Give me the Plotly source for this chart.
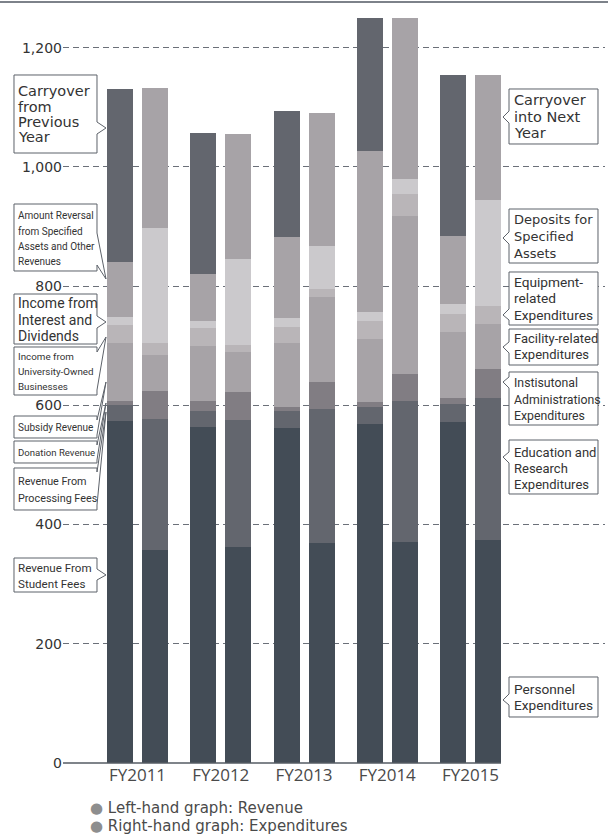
"""Revenue vs expenditures stacked bars, FY2011-FY2015."""

import plotly.graph_objects as go

W, H = 608, 837
MARGIN = dict(l=63, r=3, t=10, b=74)
PLOT_W = W - MARGIN['l'] - MARGIN['r']
PLOT_H = H - MARGIN['t'] - MARGIN['b']
Y_MAX = 1263.25

years = ['FY2011', 'FY2012', 'FY2013', 'FY2014', 'FY2015']
y_ticks = [0, 200, 400, 600, 800, 1000, 1200]

# revenue (left-hand bars), bottom to top
student_fees = [574, 564, 562, 569, 572]
processing_fees = [27, 27, 29, 29, 30]
donation = [7, 17, 7, 7, 10]
subsidy = [96, 92, 106, 106, 111]
university_business = [30, 30, 27, 30, 30]
interest_dividends = [15, 12, 15, 15, 17]
reversal_other = [92, 79, 136, 270, 114]
carryover_prev = [290, 236, 211, 223, 270]

# expenditures (right-hand bars), bottom to top
personnel = [357, 362, 369, 371, 374]
education_research = [220, 213, 225, 237, 238]
administration = [47, 47, 45, 45, 49]
facility = [60, 67, 143, 265, 76]
equipment = [20, 12, 13, 37, 29]
deposits = [193, 144, 72, 24, 178]
carryover_next = [236, 211, 223, 270, 211]

NAVY = '#434c56'
DARK = '#63666e'
MID = '#817d83'
GREY = '#a7a3a7'
LIGHT = '#b9b5b8'
PALE = '#cbc9cc'

BORDER = '#5d626a'
TEXT = '#333333'
WIDE = 'DejaVu Sans'
NARROW = 'Roboto'

BAR_WIDTH = 0.3123
BAR_SHIFT = 0.2102


def px(x):
    return (x - MARGIN['l']) / PLOT_W


def py(y):
    return (H - MARGIN['b'] - y) / PLOT_H


revenue = [
    ('Revenue From Student Fees', student_fees, NAVY),
    ('Revenue From Processing Fees', processing_fees, DARK),
    ('Donation Revenue', donation, MID),
    ('Subsidy Revenue', subsidy, GREY),
    ('Income from University-Owned Businesses', university_business, LIGHT),
    ('Income from Interest and Dividends', interest_dividends, PALE),
    ('Amount Reversal from Specified Assets and Other Revenues', reversal_other, GREY),
    ('Carryover from Previous Year', carryover_prev, DARK),
]
expenditures = [
    ('Personnel Expenditures', personnel, NAVY),
    ('Education and Research Expenditures', education_research, DARK),
    ('Instisutonal Administrations Expenditures', administration, MID),
    ('Facility-related Expenditures', facility, GREY),
    ('Equipment-related Expenditures', equipment, LIGHT),
    ('Deposits for Specified Assets', deposits, PALE),
    ('Carryover into Next Year', carryover_next, GREY),
]

# callout boxes: pixel box, tail (edge y1, edge y2, tip x, tip y), text lines
LEFT_X = (14, 97)
RIGHT_X = (509, 598)
left_labels = [
    dict(lines=['Carryover', 'from', 'Previous', 'Year'], box=(75, 153),
         tail=(122, 134, 106, 128), font=WIDE, size=14.5, first=91, step=15.5),
    dict(lines=['Amount Reversal', 'from Specified', 'Assets and Other', 'Revenues'],
         box=(204, 271), tail=(233, 265, 106, 279), font=NARROW, size=10,
         first=216, step=15.2),
    dict(lines=['Income from', 'Interest and', 'Dividends'], box=(294, 344),
         tail=(316, 328, 106, 322), font=NARROW, size=14, first=303, step=16.5),
    dict(lines=['Income from', 'University-Owned', 'Businesses'], box=(347, 395),
         tail=(352, 390, 106, 337), font=NARROW, size=9.8, first=356, step=15.3),
    dict(lines=['Subsidy Revenue'], box=(416, 438), tail=(420, 435, 106, 382),
         font=NARROW, size=10, first=427.5, step=15),
    dict(lines=['Donation Revenue'], box=(441, 463), tail=(445, 460, 106, 403),
         font=NARROW, size=9.6, first=452.5, step=15),
    dict(lines=['Revenue From', 'Processing Fees'], box=(468, 510),
         tail=(472, 505, 106, 412), font=NARROW, size=10.8, first=481.5, step=16.5),
    dict(lines=['Revenue From', 'Student Fees'], box=(558, 592),
         tail=(569, 580, 106, 575), font=NARROW, size=11.6, first=568, step=15.5),
]
right_labels = [
    dict(lines=['Carryover', 'into Next', 'Year'], box=(89, 144),
         tail=(111, 123, 503, 117), font=WIDE, size=14.5, first=100, step=16.7),
    dict(lines=['Deposits for', 'Specified', 'Assets'], box=(209, 263),
         tail=(232, 244, 503, 238), font=WIDE, size=13, first=220, step=16.7),
    dict(lines=['Equipment-', 'related', 'Expenditures'], box=(272, 325),
         tail=(309, 320, 503, 315), font=NARROW, size=13.7, first=282, step=16.3),
    dict(lines=['Facility-related', 'Expenditures'], box=(329, 365),
         tail=(342, 353, 503, 347), font=NARROW, size=13, first=339, step=15.5),
    dict(lines=['Instisutonal', 'Administrations', 'Expenditures'], box=(372, 425),
         tail=(377, 388, 503, 382), font=NARROW, size=12.3, first=383, step=16.5),
    dict(lines=['Education and', 'Research', 'Expenditures'], box=(440, 494),
         tail=(452, 463, 503, 457), font=NARROW, size=13, first=453, step=15.5),
    dict(lines=['Personnel', 'Expenditures'], box=(677, 717),
         tail=(694, 705, 503, 700), font=NARROW, size=13.7, first=689, step=15.5),
]


def _path(points):
    return 'M ' + ' L '.join(f'{px(x):.5f},{py(y):.5f}' for x, y in points) + ' Z'


def callout_points(label, side):
    y0, y1 = label['box']
    ta, tb, tx, ty = label['tail']
    if side == 'left':
        x0, x1 = LEFT_X
        return [(x0, y0), (x1, y0), (x1, ta), (tx, ty), (x1, tb), (x1, y1), (x0, y1)]
    x0, x1 = RIGHT_X
    return [(x0, y0), (x1, y0), (x1, y1), (x0, y1), (x0, tb), (tx, ty), (x0, ta)]


fig = go.Figure()

for name, values, color in revenue:
    fig.add_trace(go.Bar(
        name=name, x=[i - BAR_SHIFT for i in range(len(years))], y=values,
        width=BAR_WIDTH, marker=dict(color=color, line=dict(width=0)),
        hovertemplate='<b>' + name + '</b><br>%{y:,}<extra></extra>',
    ))
for name, values, color in expenditures:
    fig.add_trace(go.Bar(
        name=name, x=[i + BAR_SHIFT for i in range(len(years))], y=values,
        width=BAR_WIDTH, marker=dict(color=color, line=dict(width=0)),
        hovertemplate='<b>' + name + '</b><br>%{y:,}<extra></extra>',
    ))

shapes = [
    # top rule
    dict(type='line', xref='paper', yref='paper', x0=px(0), x1=px(W), y0=py(2), y1=py(2),
         line=dict(color='#7d828a', width=2)),
    # baseline
    dict(type='line', xref='paper', yref='paper', x0=px(63), x1=px(501), y0=py(763), y1=py(763),
         line=dict(color='#555b63', width=1.5)),
]
annotations = []

all_labels = [(lab, 'left') for lab in left_labels] + [(lab, 'right') for lab in right_labels]
# white fills first, then outlines, so leader tails don't hide each other
for lab, side in all_labels:
    shapes.append(dict(type='path', xref='paper', yref='paper',
                       path=_path(callout_points(lab, side)),
                       fillcolor='white', line=dict(width=0)))
for lab, side in all_labels:
    shapes.append(dict(type='path', xref='paper', yref='paper',
                       path=_path(callout_points(lab, side)),
                       fillcolor='rgba(0,0,0,0)', line=dict(color=BORDER, width=1)))
    text_x = LEFT_X[0] + 3 if side == 'left' else RIGHT_X[0] + 4
    for k, line in enumerate(lab['lines']):
        annotations.append(dict(
            text=line, x=px(text_x), y=py(lab['first'] + k * lab['step']),
            xref='paper', yref='paper', xanchor='left', yanchor='middle',
            showarrow=False, borderpad=0,
            font=dict(family=lab['font'], size=lab['size'], color=TEXT),
        ))

bullet = '<span style="color:#8e8e8e">●</span> '
for text, y in [('Left-hand graph: Revenue', 808), ('Right-hand graph: Expenditures', 826)]:
    annotations.append(dict(
        text=bullet + text, x=px(88), y=py(y), xref='paper', yref='paper',
        xanchor='left', yanchor='middle', showarrow=False,
        font=dict(family=WIDE, size=15, color='#4a4a4a'),
    ))

fig.update_layout(
    width=W, height=H,
    margin=MARGIN,
    barmode='stack',
    bargap=0,
    showlegend=False,
    plot_bgcolor='white',
    paper_bgcolor='white',
    font=dict(family=WIDE, color=TEXT),
    xaxis=dict(
        range=[-0.8949, 5.6156],
        tickvals=list(range(len(years))), ticktext=years,
        showgrid=False, zeroline=False, showline=False, ticks='',
        tickfont=dict(family='Open Sans', size=17, color='#4a4a4a'),
        fixedrange=True,
    ),
    yaxis=dict(
        range=[0, Y_MAX],
        tickvals=y_ticks, tickformat=',',
        showgrid=True, gridcolor='#6b7079', gridwidth=1.2, griddash='6px,4px',
        zeroline=False, showline=False, ticks='',
        tickfont=dict(family=WIDE, size=14, color=TEXT),
        fixedrange=True,
    ),
    shapes=shapes,
    annotations=annotations,
)

# the page's default body margin would push the chart 8px right and down
fig.write_html('out.html', config={'displayModeBar': False},
               post_script="document.body.style.margin = '0';")
